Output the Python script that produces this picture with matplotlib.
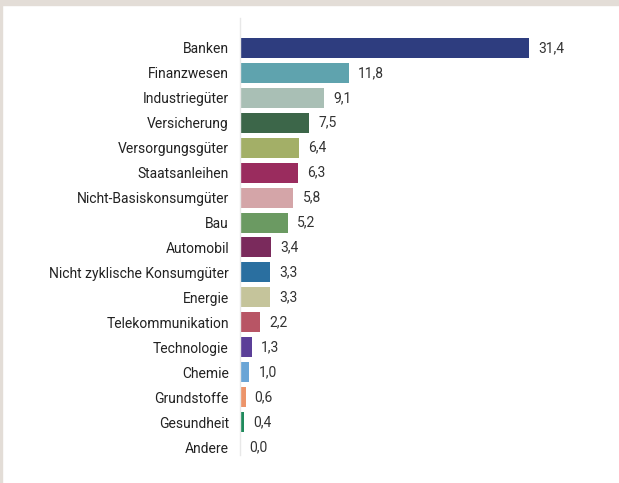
import matplotlib.pyplot as plt
from matplotlib.patches import Rectangle

sektoren = ['Banken', 'Finanzwesen', 'Industriegüter', 'Versicherung', 'Versorgungsgüter',
            'Staatsanleihen', 'Nicht-Basiskonsumgüter', 'Bau', 'Automobil',
            'Nicht zyklische Konsumgüter', 'Energie', 'Telekommunikation', 'Technologie',
            'Chemie', 'Grundstoffe', 'Gesundheit', 'Andere']
anteile = [31.4, 11.8, 9.1, 7.5, 6.4, 6.3, 5.8, 5.2, 3.4, 3.3, 3.3, 2.2, 1.3, 1.0, 0.6, 0.4, 0.0]
farben = ['#2e3d7f', '#5fa3ae', '#a9bfb5', '#3c6649', '#a3af67', '#9a2c5e', '#d4a5a8',
          '#6b9a62', '#7a2a5c', '#2a6fa0', '#c5c49b', '#b85565', '#5b3f98', '#6aa5d6',
          '#ec946a', '#1f8a5c', '#cccccc']

plt.rcParams['font.family'] = ['Roboto', 'DejaVu Sans']

fig = plt.figure(figsize=(6.19, 4.83), dpi=100)
fig.patches.append(Rectangle((0, 1 - 5 / 483), 1, 5 / 483, transform=fig.transFigure,
                             color='#e3ddd7', zorder=0))
fig.patches.append(Rectangle((0, 0), 2 / 619, 1, transform=fig.transFigure,
                             color='#e3ddd7', zorder=0))

ax = fig.add_axes([240 / 619, 28 / 483, 360 / 619, 437 / 483])
pos = list(range(len(sektoren)))
ax.barh(pos, anteile, height=0.8, color=farben)
for p, v in zip(pos, anteile):
    ax.text(v + 1.0, p, f'{v:.1f}'.replace('.', ','), va='center', ha='left',
            fontsize=10, color='#333333')

ax.set_xlim(0, 360 / 9.2)
ax.set_ylim(16.32, -1.2)
ax.set_yticks(pos)
ax.set_yticklabels(sektoren, fontsize=10, color='#222222')
ax.tick_params(axis='y', length=0, pad=8)
ax.set_xticks([])
for s in ['top', 'right', 'bottom']:
    ax.spines[s].set_visible(False)
ax.spines['left'].set_color('#e8e8e8')
ax.spines['left'].set_linewidth(1)

fig.savefig('out.png', dpi=100)
